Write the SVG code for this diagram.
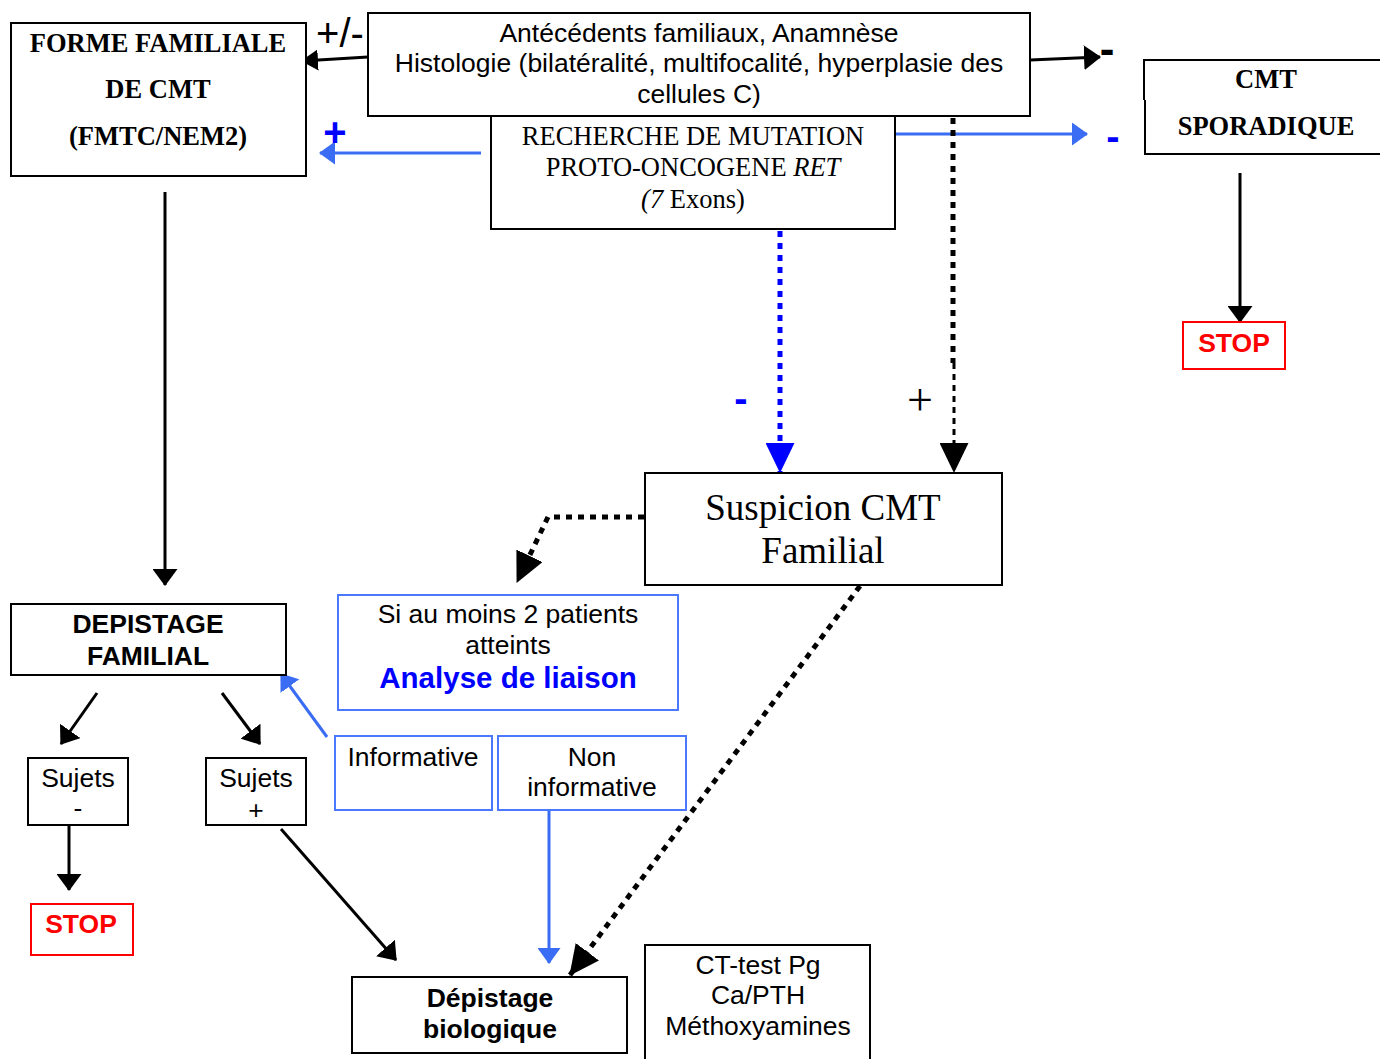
<svg xmlns="http://www.w3.org/2000/svg" width="1380" height="1059" viewBox="0 0 1380 1059">
<style>
.bx{fill:#fff;stroke:#000;stroke-width:2}
.bb{fill:#fff;stroke:#4a78ff;stroke-width:2}
.rb{fill:#fff;stroke:#ff0000;stroke-width:2}
.sans{font-family:"Liberation Sans",Arial,sans-serif;font-size:26.5px;text-anchor:middle}
.serif{font-family:"Liberation Serif","Times New Roman",serif;font-size:26.5px;text-anchor:middle}
.b{font-weight:bold}
.ln{fill:none;stroke:#000;stroke-width:3}
.lb{fill:none;stroke:#3a6cf4;stroke-width:3}
.dk{fill:none;stroke:#000;stroke-width:5;stroke-dasharray:6 6}
.dk2{fill:none;stroke:#000;stroke-width:3;stroke-dasharray:6 5}
.db{fill:none;stroke:#0000ff;stroke-width:5;stroke-dasharray:6 6}
</style>
<defs>
<marker id="ak" viewBox="0 0 17 25" markerWidth="17" markerHeight="25" refX="16" refY="12.5" orient="auto" markerUnits="userSpaceOnUse"><path d="M0,0L17,12.5L0,25z" fill="#000"/></marker>
<marker id="aks" viewBox="0 0 17 21" markerWidth="17" markerHeight="21" refX="16" refY="10.5" orient="auto" markerUnits="userSpaceOnUse"><path d="M0,0L17,10.5L0,21z" fill="#000"/></marker>
<marker id="akb" viewBox="0 0 30 29" markerWidth="30" markerHeight="29" refX="29" refY="14.5" orient="auto" markerUnits="userSpaceOnUse"><path d="M0,0L30,14.5L0,29z" fill="#000"/></marker>
<marker id="ab" viewBox="0 0 16 23" markerWidth="16" markerHeight="23" refX="15" refY="11.5" orient="auto" markerUnits="userSpaceOnUse"><path d="M0,0L16,11.5L0,23z" fill="#3a6cf4"/></marker>
<marker id="abd" viewBox="0 0 30 29" markerWidth="30" markerHeight="29" refX="29" refY="14.5" orient="auto" markerUnits="userSpaceOnUse"><path d="M0,0L30,14.5L0,29z" fill="#0000ff"/></marker>
</defs>

<g id="connectors">
<line class="ln" x1="368" y1="57" x2="302" y2="61" marker-end="url(#aks)"/>
<line class="ln" x1="1030" y1="60" x2="1100" y2="57" marker-end="url(#ak)"/>
<line class="lb" x1="481" y1="153" x2="320" y2="153" marker-end="url(#ab)"/>
<line class="lb" x1="895" y1="134" x2="1087" y2="134" marker-end="url(#ab)"/>
<line class="db" x1="780" y1="231" x2="780" y2="472" marker-end="url(#abd)"/>
<line class="dk" x1="953" y1="118" x2="953" y2="363"/>
<line class="dk2" x1="954" y1="363" x2="954" y2="472" marker-end="url(#akb)"/>
<line class="ln" x1="1240" y1="173" x2="1240" y2="322" marker-end="url(#ak)"/>
<line class="ln" x1="165" y1="192" x2="165" y2="585" marker-end="url(#ak)"/>
<polyline class="dk" points="644,517 548,517 517,582" marker-end="url(#akb)"/>
<line class="dk" x1="860" y1="586" x2="570" y2="975" marker-end="url(#akb)"/>
<line class="lb" x1="327" y1="737" x2="281" y2="674" marker-end="url(#ab)"/>
<line class="ln" x1="97" y1="693" x2="61" y2="744" marker-end="url(#ak)"/>
<line class="ln" x1="222" y1="693" x2="260" y2="744" marker-end="url(#ak)"/>
<line class="ln" x1="69" y1="825" x2="69" y2="890" marker-end="url(#ak)"/>
<line class="ln" x1="281" y1="829" x2="396" y2="960" marker-end="url(#ak)"/>
<line class="lb" x1="549" y1="810" x2="549" y2="963" marker-end="url(#ab)"/>
<text x="340" y="47" class="sans" style="font-size:40px">+/-</text>
<text x="1107" y="64" class="sans b" style="font-size:44px">-</text>
<text x="335" y="146" class="sans b" style="font-size:40px;fill:#0000ff">+</text>
<text x="1113" y="150" class="sans b" style="font-size:40px;fill:#0000ff">-</text>
<text x="741" y="412" class="sans b" style="font-size:40px;fill:#0000ff">-</text>
<text x="920" y="415" class="serif" style="font-size:46px">+</text>
</g>

<g id="forme">
<rect class="bx" x="11" y="23" width="295" height="153"/>
<text class="serif b" x="158" y="52">FORME FAMILIALE</text>
<text class="serif b" x="158" y="98">DE CMT</text>
<text class="serif b" x="158" y="145">(FMTC/NEM2)</text>
</g>

<g id="antecedents">
<rect class="bx" x="368" y="13" width="662" height="103"/>
<text class="sans" x="699" y="42">Antécédents familiaux, Anamnèse</text>
<text class="sans" x="699" y="72">Histologie (bilatéralité, multifocalité, hyperplasie des</text>
<text class="sans" x="699" y="103">cellules C)</text>
</g>

<g id="recherche">
<rect class="bx" x="491" y="116" width="404" height="113"/>
<text class="serif" x="693" y="145">RECHERCHE DE MUTATION</text>
<text class="serif" x="693" y="176">PROTO-ONCOGENE <tspan font-style="italic">RET</tspan></text>
<text class="serif" x="693" y="208"><tspan font-style="italic">(7</tspan> Exons)</text>
</g>

<g id="sporadique">
<path d="M1144,100V60H1390M1145,100V154H1390" fill="#fff" stroke="#000" stroke-width="2"/>
<text class="serif b" x="1266" y="88">CMT</text>
<text class="serif b" x="1266" y="135">SPORADIQUE</text>
</g>

<g id="stop1">
<rect class="rb" x="1183" y="322" width="102" height="47"/>
<text class="sans b" x="1234" y="352" fill="#ff0000">STOP</text>
</g>

<g id="suspicion">
<rect class="bx" x="645" y="473" width="357" height="112"/>
<text class="serif" x="823" y="520" style="font-size:37px">Suspicion CMT</text>
<text class="serif" x="823" y="563" style="font-size:37px">Familial</text>
</g>

<g id="liaison">
<rect class="bb" x="338" y="595" width="340" height="115"/>
<text class="sans" x="508" y="623">Si au moins 2 patients</text>
<text class="sans" x="508" y="654">atteints</text>
<text class="sans b" x="508" y="688" style="font-size:29.5px;fill:#0000ff">Analyse de liaison</text>
</g>

<g id="depistage-familial">
<rect class="bx" x="11" y="604" width="275" height="71"/>
<text class="sans b" x="148" y="633">DEPISTAGE</text>
<text class="sans b" x="148" y="665">FAMILIAL</text>
</g>

<g id="sujets-moins">
<rect class="bx" x="28" y="758" width="100" height="67"/>
<text class="sans" x="78" y="787">Sujets</text>
<text class="sans" x="78" y="817">-</text>
</g>

<g id="sujets-plus">
<rect class="bx" x="206" y="758" width="100" height="67"/>
<text class="sans" x="256" y="787">Sujets</text>
<text class="sans" x="256" y="819">+</text>
</g>

<g id="stop2">
<rect class="rb" x="31" y="904" width="102" height="51"/>
<text class="sans b" x="81" y="933" fill="#ff0000">STOP</text>
</g>

<g id="informative">
<rect class="bb" x="335" y="736" width="157" height="74"/>
<text class="sans" x="413" y="766">Informative</text>
</g>

<g id="non-informative">
<rect class="bb" x="498" y="736" width="188" height="74"/>
<text class="sans" x="592" y="766">Non</text>
<text class="sans" x="592" y="796">informative</text>
</g>

<g id="depistage-bio">
<rect class="bx" x="352" y="977" width="275" height="76"/>
<text class="sans b" x="490" y="1007">Dépistage</text>
<text class="sans b" x="490" y="1038">biologique</text>
</g>

<g id="ct-test">
<rect class="bx" x="645" y="945" width="225" height="130"/>
<text class="sans" x="758" y="974">CT-test Pg</text>
<text class="sans" x="758" y="1004">Ca/PTH</text>
<text class="sans" x="758" y="1035">Méthoxyamines</text>
</g>
</svg>
